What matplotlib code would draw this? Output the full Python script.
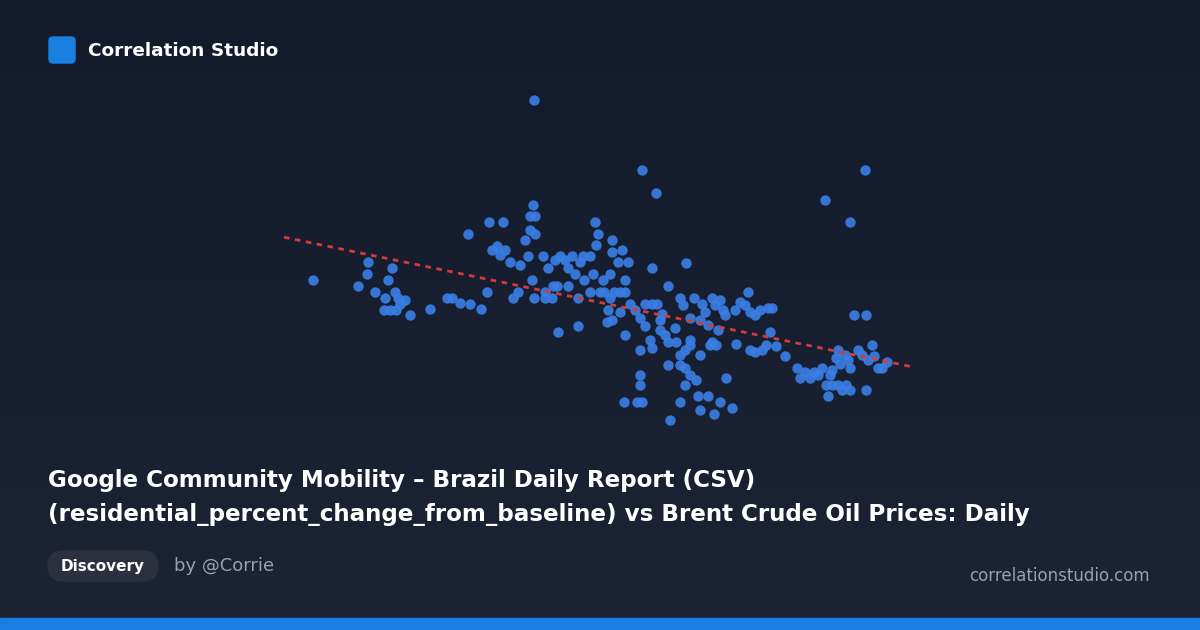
import numpy as np
import matplotlib.pyplot as plt
from matplotlib.patches import FancyBboxPatch, Rectangle

# точки в пиксельных координатах картинки (x вправо, y вниз)
resid = [313,358,368,367,375,385,388,392,384,390,395,398,400,396,405,410,430,447,452,460,470,481,487,468,489,503,
         492,497,500,505,510,513,518,520,525,530,533,535,530,535,528,532,534,545,552,543,548,555,560,565,568,572,
         575,580,583,590,593,595,598,596,600,603,604,610,612,612,618,622,628,625,558,578,553,557,568,584,590,578,
         545,534,642,656,652,686,668,610,614,620,625,608,612,607,620,630,625,635,640,645,652,657,662,645,650,640,
         652,660,665,668,675,680,683,690,690,685,680,676,694,702,705,712,715,720,723,708,712,700,718,725,735,740,
         745,750,755,748,760,768,772,770,736,750,755,762,766,776,785,660,668,680,685,690,696,685,640,637,642,624,
         680,698,708,714,720,732,726,670,640,700,797,800,805,810,814,818,822,825,830,832,838,836,840,845,848,850,
         850,854,866,865,858,862,868,872,874,878,882,887,866,828,826,832,838,846,850,842,690,700,710,716]
brent = [280,286,262,274,292,298,280,268,310,310,292,298,304,310,300,315,309,298,298,303,304,309,292,234,222,222,
         250,246,255,250,262,298,292,265,240,216,205,216,230,234,256,280,298,298,298,256,268,260,256,260,268,256,
         274,262,256,256,274,222,234,245,292,280,292,274,240,252,262,250,262,280,332,326,286,286,286,280,292,298,
         292,100,170,193,268,263,286,298,292,292,292,310,320,322,312,304,335,310,318,304,304,304,314,326,340,350,
         348,330,335,342,328,298,305,318,340,350,355,342,298,304,312,298,305,300,310,325,342,320,330,315,310,302,
         305,312,315,292,310,308,308,332,344,350,352,350,345,346,356,320,365,365,368,375,380,385,385,402,402,402,
         402,396,396,414,402,408,378,420,375,410,368,378,372,378,372,375,368,200,375,370,350,358,364,355,360,368,
         222,315,315,170,350,355,360,345,356,368,368,362,390,396,385,385,385,385,390,390,345,355,345,345]

fig = plt.figure(figsize=(12, 6.3), dpi=100)
bg = fig.add_axes([0, 0, 1, 1])
grad = np.linspace(0, 1, 256).reshape(-1, 1)
bg.imshow(grad, aspect='auto', extent=[0, 1200, 630, 0],
          cmap=plt.matplotlib.colors.LinearSegmentedColormap.from_list('g', ['#131a2b', '#1b2335']))
bg.set_xlim(0, 1200); bg.set_ylim(630, 0); bg.axis('off')

ax = fig.add_axes([0, 0, 1, 1])
ax.set_xlim(0, 1200); ax.set_ylim(630, 0); ax.axis('off')
ax.scatter(resid, brent, s=56, color='#3a7fe6', alpha=0.9, linewidths=0, zorder=3)
k, b = np.polyfit(resid, brent, 1)
xs = np.array([284, 915])
ax.plot(xs, k*xs+b, color='#d63b3b', ls=(0, (2, 2)), lw=2, zorder=4)

# шапка
ax.add_patch(FancyBboxPatch((49, 37), 26, 26, boxstyle='round,pad=0,rounding_size=4', color='#1a80e0'))
ax.text(88, 51, 'Correlation Studio', color='white', fontsize=13.3, fontweight='bold', va='center')

# заголовок
ax.text(48, 480, 'Google Community Mobility – Brazil Daily Report (CSV)', color='white', fontsize=16.6,
        fontweight='bold', va='center')
ax.text(48, 514, '(residential_percent_change_from_baseline) vs Brent Crude Oil Prices: Daily', color='white',
        fontsize=16.6, fontweight='bold', va='center')

ax.add_patch(FancyBboxPatch((48, 551), 110, 30, boxstyle='round,pad=0,rounding_size=15', color='#2b2f3e'))
ax.text(103, 566, 'Discovery', color='white', fontsize=11, fontweight='bold', va='center', ha='center')
ax.text(174, 566, 'by @Corrie', color='#9aa0ad', fontsize=13, va='center')
ax.text(1150, 576, 'correlationstudio.com', color='#9aa0ad', fontsize=12, va='center', ha='right')
ax.add_patch(Rectangle((0, 618), 1200, 12, color='#1a7fe0'))

fig.savefig('out.png', dpi=100)
